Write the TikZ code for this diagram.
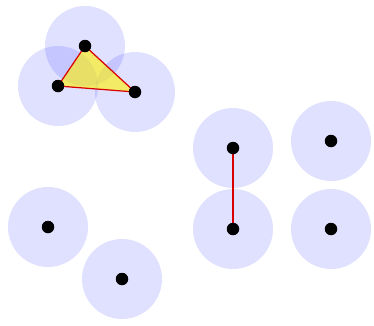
\documentclass[tikz,border=0pt]{standalone}
\usetikzlibrary{positioning}
\begin{document}
\begin{tikzpicture}[x=0.02cm,y=-0.02cm]
\tikzset{
  disk/.style={circle,fill=blue,fill opacity=0.12,minimum size=1.6cm,inner sep=0pt},
  vertex/.style={circle,fill=black,minimum size=2.5mm,inner sep=0pt},
  simplex/.style={fill=yellow,fill opacity=0.6},
  edge/.style={red!85!black,line width=0.7pt}
}
\useasboundingbox (0,0) rectangle (374,325);
\coordinate (v_a) at (85,46);
\coordinate (v_b) at (58,86);
\coordinate (v_c) at (135,92);
\coordinate (v_d) at (233,148);
\coordinate (v_e) at (233,229);
\coordinate (v_f) at (331,141);
\coordinate (v_g) at (331,229);
\coordinate (v_h) at (48,227);
\coordinate (v_i) at (122,279);
\foreach \v in {a,b,c,d,e,f,g,h,i}
  \node[disk] at (v_\v) {};
\fill[simplex] (v_a) -- (v_b) -- (v_c) -- cycle;
\draw[edge] (v_a) -- (v_b);
\draw[edge] (v_b) -- (v_c);
\draw[edge] (v_c) -- (v_a);
\draw[edge] (v_d) -- (v_e);
\foreach \v in {a,b,c,d,e,f,g,h,i}
  \node[vertex] (n_\v) at (v_\v) {};
\end{tikzpicture}
\end{document}
